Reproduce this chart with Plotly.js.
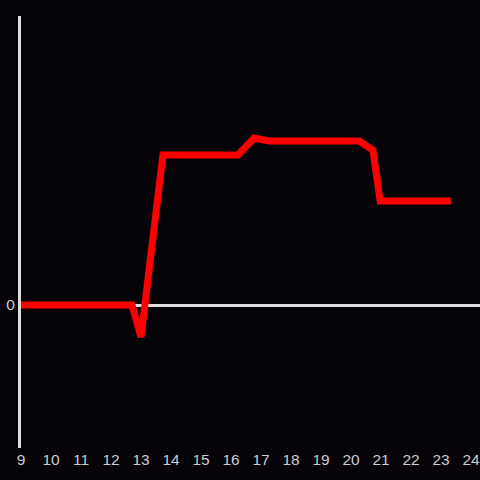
<!DOCTYPE html>
<html>
<head>
<meta charset="utf-8">
<script src="https://cdn.plot.ly/plotly-3.0.1.min.js"></script>
<style>html,body{margin:0;padding:0;background:#050308;}#chart{width:480px;height:480px;}</style>
</head>
<body>
<div id="chart"></div>
<script>
var hours = [9, 12.7, 13.0, 13.73, 13.93, 16.23, 16.77, 17.07, 17.27, 20.27, 20.73, 20.97, 23.33];
var values = [0, 0, -32, 150, 150, 150, 167, 166, 164, 164, 155, 104, 104];
var xTicks = [9, 10, 11, 12, 13, 14, 15, 16, 17, 18, 19, 20, 21, 22, 23, 24];
var yTicks = [0];

var trace = {
  x: hours, y: values, type: 'scatter', mode: 'lines',
  line: {color: '#ff0000', width: 7}, hoverinfo: 'none'
};
var layout = {
  width: 480, height: 480,
  paper_bgcolor: '#050308', plot_bgcolor: '#050308',
  margin: {l: 21, r: 0, t: 16, b: 32},
  showlegend: false,
  font: {family: 'Liberation Sans, Arial, sans-serif', color: '#cccccc', size: 15},
  xaxis: {range: [9.0, 24.30], tickvals: xTicks, ticktext: xTicks.map(String),
          showgrid: false, zeroline: false, showline: false, ticks: '', ticklen: 0,
          tickfont: {size: 15.5, color: '#cccccc'}},
  yaxis: {range: [-143, 289], tickvals: yTicks, ticktext: ['0'],
          showgrid: false, zeroline: true, zerolinecolor: '#dddddd', zerolinewidth: 3,
          showline: true, linecolor: '#dddddd', linewidth: 3, ticks: '',
          tickfont: {size: 15.5, color: '#cccccc'}}
};
Plotly.newPlot('chart', [trace], layout, {staticPlot: true, displayModeBar: false});
</script>
</body>
</html>
